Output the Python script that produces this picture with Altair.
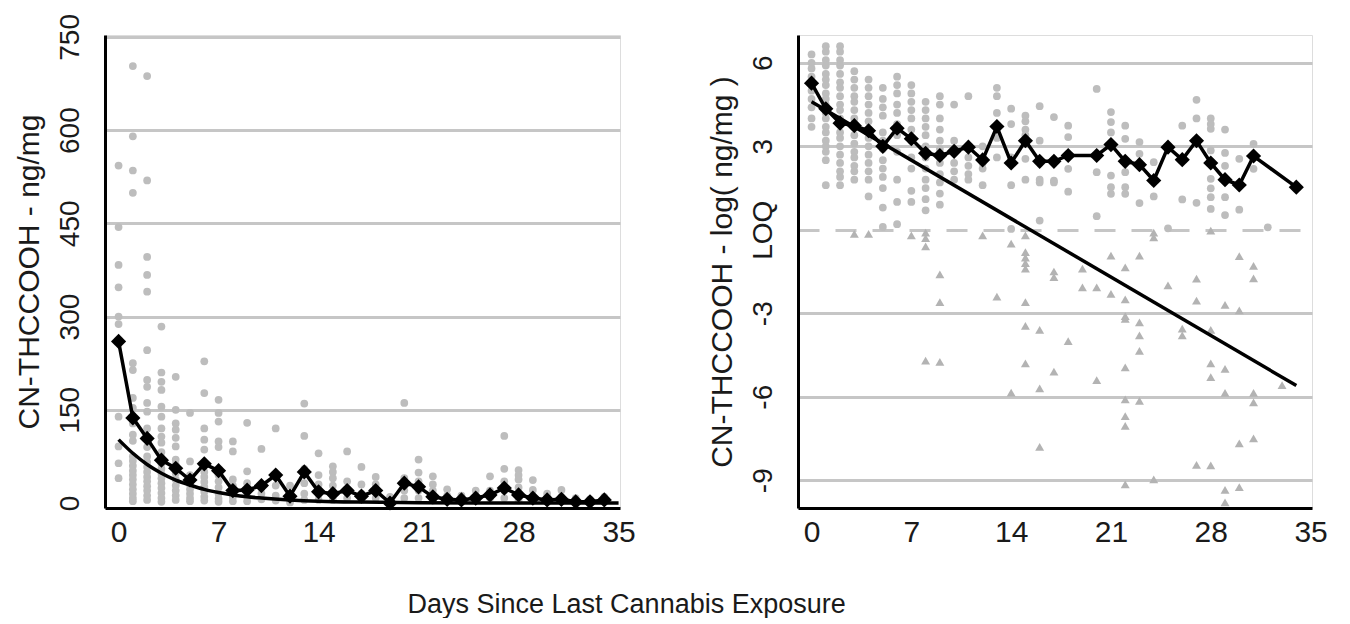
import altair as alt
import pandas as pd

FONT = "Liberation Sans"

# ---------------- data ----------------
# left panel: CN-THCCOOH ng/mg, individual specimens by day (index = day)
left_dots = [
    [543, 444, 383, 347, 300, 288, 139, 91, 64, 40],
    [703, 590, 535, 499, 225, 214, 169, 153, 128, 110, 100, 75, 68, 60, 52, 45, 38, 30, 22, 15, 8, 3],
    [687, 519, 396, 367, 340, 246, 198, 187, 161, 147, 120, 102, 90, 75, 66, 58, 50, 42, 35, 27, 20, 12, 5],
    [284, 210, 195, 182, 155, 139, 120, 107, 97, 82, 72, 63, 55, 47, 40, 32, 24, 16, 8, 2],
    [203, 150, 128, 118, 105, 91, 70, 62, 48, 38, 28, 20, 12, 5],
    [145, 67, 45, 38, 30, 22, 15, 8, 3],
    [228, 177, 120, 102, 86, 50, 42, 34, 26, 18, 10, 4],
    [166, 145, 131, 99, 90, 45, 35, 25, 15, 7, 2],
    [99, 83, 38, 28, 18, 10, 3],
    [129, 51, 32, 20, 10, 3],
    [87, 25, 15, 6],
    [120, 28, 12, 4],
    [28, 12, 5, 1],
    [160, 108, 55, 32, 15, 5],
    [80, 45, 30, 15, 5],
    [59, 50, 40, 28, 15, 5],
    [83, 35, 20, 8],
    [58, 30, 15, 5],
    [42, 30, 18, 8],
    [10, 3, 0],
    [161, 40, 20, 8],
    [70, 49, 35, 20, 8],
    [43, 30, 20, 10, 4],
    [22, 12, 5],
    [12, 6, 2],
    [20, 10, 4],
    [43, 20, 8],
    [108, 55, 35, 20, 8],
    [53, 45, 38, 25, 12, 4],
    [37, 21, 10, 4],
    [15, 8, 3],
    [21, 10, 4],
    [8, 3],
    [6, 2],
    [10, 4],
]
left_mean_day = list(range(35))
left_mean_val = [260, 137, 104, 69, 56, 37, 63, 52, 20, 21, 28, 45, 11, 50, 18, 15, 20, 11, 20, 0,
                 32, 26, 10, 6, 5, 8, 13, 24, 13, 8, 5, 6, 2, 2, 5]
left_fit_day = [0, 1, 2, 3, 4, 5, 6, 7, 8, 9, 10, 12, 14, 17, 21, 25, 30, 35]
left_fit_val = [102, 80, 62, 48, 37, 29, 22, 17, 13, 10, 8, 5, 3, 1.5, 0.5, 0.2, 0, 0]

# right panel: log(ng/mg); circles above LOQ, triangles below LOQ (index = day)
right_circles = [
    [6.3, 6.0, 5.8, 5.5, 5.2, 5.0, 4.7, 4.4, 4.0, 3.7],
    [6.6, 6.4, 6.1, 5.9, 5.6, 5.4, 5.2, 4.9, 4.7, 4.5, 4.2, 4.0, 3.7, 3.5, 3.2, 3.0, 2.8, 2.5, 1.6],
    [6.6, 6.4, 6.1, 5.9, 5.6, 5.3, 5.1, 4.8, 4.5, 4.3, 4.0, 3.8, 3.5, 3.3, 3.0, 2.7, 2.4, 2.1, 1.9, 1.6],
    [5.7, 5.4, 5.1, 4.8, 4.6, 4.3, 4.0, 3.7, 3.4, 3.1, 2.8, 2.6, 2.3, 2.1, 1.8],
    [5.4, 5.1, 4.8, 4.5, 4.2, 3.9, 3.6, 3.3, 3.0, 2.7, 2.4, 2.1, 1.8, 1.2],
    [5.1, 4.7, 4.4, 4.1, 3.5, 3.2, 2.9, 2.5, 2.2, 1.9, 1.5, 0.8, 0.1],
    [5.5, 5.2, 4.9, 4.5, 4.2, 3.8, 3.4, 2.8, 1.8, 1.0, 0.2],
    [5.2, 4.9, 4.6, 4.3, 4.0, 3.6, 3.2, 2.6, 2.2, 1.4, 1.0],
    [4.6, 4.3, 4.0, 3.7, 3.4, 3.0, 2.6, 2.2, 1.8, 1.5, 1.1, 0.7],
    [4.8, 4.5, 4.0, 3.6, 3.2, 2.9, 2.4, 2.0, 1.7, 1.3, 0.9],
    [4.5, 3.2, 2.8, 2.4, 2.1, 1.8],
    [4.8, 2.6, 2.3, 2.0, 1.8],
    [3.0, 2.4, 2.2, 1.6],
    [5.1, 4.8, 4.2, 3.3, 2.6],
    [4.35, 3.8, 2.6, 1.6, 0.03],
    [4.1, 3.9, 3.6, 3.4, 2.55, 1.8],
    [4.44, 3.2, 1.8, 1.7, 0.33],
    [4.05, 1.77, 1.7],
    [3.74, 3.33, 2.19, 1.37],
    [],
    [5.06, 2.07, 0.49],
    [4.23, 3.87, 3.5, 1.95, 1.53, 1.29],
    [3.74, 3.27, 2.07, 1.53, 1.29],
    [3.15, 2.73, 0.96],
    [2.43, 1.2],
    [0.05],
    [3.74, 1.09],
    [4.67, 4.0, 0.97],
    [4.0, 3.8, 3.63, 2.85, 1.83, 1.49, 1.17, 0.75],
    [3.6, 2.76, 2.3, 1.17, 0.53],
    [2.55, 0.72],
    [3.09, 2.19],
    [0.09],
    [],
    [],
]
right_triangles = [
    [], [], [], [-0.15], [-0.15], [], [], [-0.2],
    [-0.1, -0.3, -0.6, -4.7],
    [-1.6, -2.6, -4.75],
    [], [], [-0.2], [-2.4],
    [-0.5, -5.85],
    [-0.2, -0.8, -1.0, -1.2, -1.4, -2.6, -3.45, -4.8],
    [-3.6, -5.7, -7.8],
    [-1.5, -1.7, -5.1],
    [-4.0],
    [-1.4, -2.07],
    [-2.07, -5.4],
    [-0.93, -2.3],
    [-1.35, -2.5, -3.1, -3.2, -4.95, -6.1, -6.7, -7.05, -9.15],
    [-0.93, -3.33, -3.8, -4.35, -6.15],
    [-0.1, -0.27, -8.97],
    [-2.0],
    [-3.55, -3.8],
    [-1.76, -2.55, -8.45],
    [-0.03, -3.6, -4.8, -5.3, -8.47],
    [-2.7, -5.0, -5.86, -9.35, -9.8],
    [-0.95, -2.9, -7.68, -9.25],
    [-1.3, -1.75, -5.86, -6.2, -7.5],
    [], [-5.58], [],
]
right_mean_day = list(range(0, 19)) + list(range(20, 32)) + [34]
right_mean_val = [5.27, 4.35, 3.83, 3.74, 3.56, 3.0, 3.65, 3.27, 2.75, 2.67, 2.82, 2.97, 2.51, 3.71,
                  2.4, 3.2, 2.46, 2.46, 2.67,
                  2.67, 3.06, 2.46, 2.34, 1.77, 2.97, 2.52, 3.2, 2.4, 1.8, 1.61, 2.65,
                  1.53]
right_fit_day = [0, 34]
right_fit_val = [4.6, -5.6]

x_ticks = [0, 7, 14, 21, 28, 35]
left_y_ticks = [0, 150, 300, 450, 600, 750]
right_y_ticks = [-9, -6, -3, 0, 3, 6]


def flatten(lists):
    rows = []
    for d, vals in enumerate(lists):
        for v in vals:
            rows.append({"day": d, "val": v})
    return pd.DataFrame(rows)


left_dots_df = flatten(left_dots)
left_mean_df = pd.DataFrame({"day": left_mean_day, "val": left_mean_val})
left_fit_df = pd.DataFrame({"day": left_fit_day, "val": left_fit_val})
right_circ_df = flatten(right_circles)
right_tri_df = flatten(right_triangles)
right_mean_df = pd.DataFrame({"day": right_mean_day, "val": right_mean_val})
right_fit_df = pd.DataFrame({"day": right_fit_day, "val": right_fit_val})

TXT = "#1a1a1a"
GRID = "#c6c6c6"
DOT = "#bdbdbd"

xscale = alt.Scale(domain=[-0.95, 35.1], nice=False, zero=False)
xaxis = alt.Axis(values=x_ticks, title=None, grid=False, ticks=False, labelFontSize=30,
                 labelPadding=9, labelFont=FONT, labelColor=TXT, domainColor="black",
                 domainWidth=3)


def yaxis(title, ticks, label_expr=None, dash_zero=False, hide_zero_grid=False):
    kw = dict(values=ticks, title=title, ticks=False, labelAngle=270, labelAlign="center",
              labelBaseline="bottom", labelFontSize=28, labelFont=FONT, labelColor=TXT,
              labelPadding=21, domainColor="black", domainWidth=3, grid=True,
              gridColor=GRID, gridWidth=3, titleFont=FONT, titleFontSize=30,
              titleFontWeight="normal", titleColor=TXT, titlePadding=12)
    if label_expr:
        kw["labelExpr"] = label_expr
    if dash_zero:
        kw["gridDash"] = {"condition": {"test": "datum.value === 0", "value": [21, 16]},
                          "value": []}
    if hide_zero_grid:
        kw["gridOpacity"] = {"condition": {"test": "datum.value === 0", "value": 0},
                             "value": 1}
    return alt.Axis(**kw)


lscale = alt.Scale(domain=[-8, 753], nice=False, zero=False)
rscale = alt.Scale(domain=[-10, 7], nice=False, zero=False)

lx = alt.X("day:Q", scale=xscale, axis=xaxis)

left_base_y = alt.Y("val:Q", scale=lscale,
                    axis=yaxis("CN-THCCOOH - ng/mg", left_y_ticks, hide_zero_grid=True))
left = alt.layer(
    alt.Chart(left_dots_df).mark_circle(size=60, color=DOT, opacity=1).encode(x=lx, y=left_base_y),
    alt.Chart(left_fit_df).mark_line(color="black", strokeWidth=3.5, interpolate="monotone").encode(
        x="day:Q", y="val:Q"),
    alt.Chart(left_mean_df).mark_line(color="black", strokeWidth=3.5).encode(x="day:Q", y="val:Q"),
    alt.Chart(left_mean_df).mark_point(shape="diamond", size=230, filled=True, color="black",
                                       opacity=1).encode(x="day:Q", y="val:Q"),
).properties(width=515, height=473)

right_base_y = alt.Y("val:Q", scale=rscale,
                     axis=yaxis("CN-THCCOOH - log( ng/mg )", right_y_ticks,
                                label_expr="datum.value === 0 ? 'LOQ' : toString(datum.value)",
                                dash_zero=True))
rx = alt.X("day:Q", scale=xscale, axis=xaxis)
right = alt.layer(
    alt.Chart(right_circ_df).mark_circle(size=60, color=DOT, opacity=1).encode(x=rx, y=right_base_y),
    alt.Chart(right_tri_df).mark_point(shape="triangle-up", size=80, filled=True, color="#b3b3b3",
                                       opacity=1).encode(x="day:Q", y="val:Q"),
    alt.Chart(right_fit_df).mark_line(color="black", strokeWidth=3.5).encode(x="day:Q", y="val:Q"),
    alt.Chart(right_mean_df).mark_line(color="black", strokeWidth=3.5).encode(x="day:Q", y="val:Q"),
    alt.Chart(right_mean_df).mark_point(shape="diamond", size=230, filled=True, color="black",
                                        opacity=1).encode(x="day:Q", y="val:Q"),
).properties(width=514, height=473)

chart = alt.hconcat(left, right, spacing=70).properties(
    title=alt.TitleParams("Days Since Last Cannabis Exposure", orient="bottom", anchor="middle",
                          fontSize=27, font=FONT, fontWeight="normal", color=TXT, offset=44,
                          dx=-44),
    padding={"left": 5, "top": 5, "right": 5, "bottom": 0},
).configure_view(stroke=None).configure(background="white")

chart.save("out.html", embed_options={"renderer": "svg", "actions": False})
